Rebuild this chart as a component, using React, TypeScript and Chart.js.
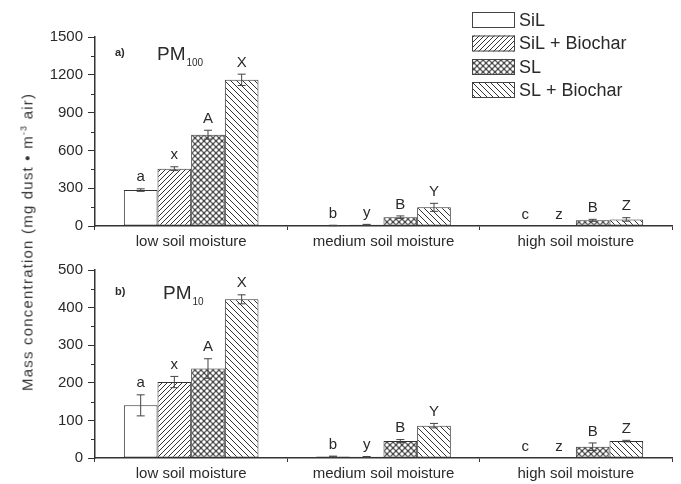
import React, { useEffect, useRef } from 'react';
import { Chart, registerables } from 'chart.js';

Chart.register(...registerables);

// ---------- data ----------
const categories = ['low soil moisture', 'medium soil moisture', 'high soil moisture'];
const seriesNames = ['SiL', 'SiL + Biochar', 'SL', 'SL + Biochar'];

// PM100 (panel a)
const pm100SiL = [285, 4, 0];
const pm100SiLBiochar = [455, 10, 0];
const pm100SL = [725, 70, 45];
const pm100SLBiochar = [1160, 148, 52];
const pm100ErrSiL = [10, 2, 0];
const pm100ErrSiLBiochar = [15, 3, 0];
const pm100ErrSL = [35, 10, 8];
const pm100ErrSLBiochar = [45, 32, 14];

// PM10 (panel b)
const pm10SiL = [140, 4, 0];
const pm10SiLBiochar = [202, 3, 0];
const pm10SL = [238, 45, 30];
const pm10SLBiochar = [422, 86, 45];
const pm10ErrSiL = [28, 1, 0];
const pm10ErrSiLBiochar = [15, 1, 0];
const pm10ErrSL = [26, 4, 10];
const pm10ErrSLBiochar = [12, 6, 2];

// significance letters
const lettersSiL = ['a', 'b', 'c'];
const lettersSiLBiochar = ['x', 'y', 'z'];
const lettersSL = ['A', 'B', 'B'];
const lettersSLBiochar = ['X', 'Y', 'Z'];

const FONT = '"Liberation Sans", Arial, Helvetica, sans-serif';
const INK = '#2a2a2a';

type Kind = 'none' | 'fwd' | 'cross' | 'back';
const kinds: Kind[] = ['none', 'fwd', 'cross', 'back'];

function makePattern(kind: Kind): CanvasPattern | string {
  if (kind === 'none') return '#ffffff';
  const size = kind === 'fwd' ? 5 : kind === 'back' ? 6 : 6;
  const c = document.createElement('canvas');
  c.width = size;
  c.height = size;
  const g = c.getContext('2d')!;
  if (kind === 'cross') {
    g.fillStyle = '#4a4a4a';
    g.fillRect(0, 0, size, size);
    g.fillStyle = '#ffffff';
    const pts = [[0, 0], [size, 0], [0, size], [size, size], [size / 2, size / 2]];
    pts.forEach(([px, py]) => {
      g.beginPath();
      g.arc(px, py, 1.75, 0, Math.PI * 2);
      g.fill();
    });
    return g.createPattern(c, 'repeat')!;
  }
  g.fillStyle = '#ffffff';
  g.fillRect(0, 0, size, size);
  g.strokeStyle = '#333';
  g.lineWidth = 1;
  g.beginPath();
  if (kind === 'fwd') {
    g.moveTo(-1, size + 1); g.lineTo(size + 1, -1);
    g.moveTo(-1, 1); g.lineTo(1, -1);
    g.moveTo(size - 1, size + 1); g.lineTo(size + 1, size - 1);
  } else {
    g.moveTo(-1, -1); g.lineTo(size + 1, size + 1);
    g.moveTo(size - 1, -1); g.lineTo(size + 1, 1);
    g.moveTo(-1, size - 1); g.lineTo(1, size + 1);
  }
  g.stroke();
  return g.createPattern(c, 'repeat')!;
}

interface PanelProps {
  values: number[][];
  errors: number[][];
  letters: string[][];
  max: number;
  step: number;
  width: number;
  height: number;
  padTop: number;
  xAxisHeight: number;
  tag: string;
  tagY: number;
  pmX: number;
  sub: string;
  showLegend: boolean;
}

function Panel(p: PanelProps) {
  const ref = useRef<HTMLCanvasElement | null>(null);
  useEffect(() => {
    const canvas = ref.current!;
    const fills = kinds.map(makePattern);

    const errorPlugin = {
      id: 'errLetters',
      afterDatasetsDraw(chart: any) {
        const ctx = chart.ctx;
        const ys = chart.scales.y;
        ctx.save();
        chart.data.datasets.forEach((ds: any, i: number) => {
          const meta = chart.getDatasetMeta(i);
          meta.data.forEach((bar: any, j: number) => {
            const v = ds.data[j];
            const e = ds.errors[j];
            const x = bar.x;
            const top = ys.getPixelForValue(v + e);
            if (e > 0) {
              const bot = ys.getPixelForValue(Math.max(0, v - e));
              ctx.strokeStyle = '#444';
              ctx.lineWidth = 1;
              ctx.beginPath();
              ctx.moveTo(x, top); ctx.lineTo(x, bot);
              ctx.moveTo(x - 4, top); ctx.lineTo(x + 4, top);
              ctx.moveTo(x - 4, bot); ctx.lineTo(x + 4, bot);
              ctx.stroke();
            }
            ctx.fillStyle = INK;
            ctx.font = `15px ${FONT}`;
            ctx.textAlign = 'center';
            ctx.textBaseline = 'bottom';
            ctx.fillText(ds.letters[j], x, top - 4);
          });
        });
        ctx.restore();
      },
    };

    const decoPlugin = {
      id: 'deco',
      afterDraw(chart: any) {
        const ctx = chart.ctx;
        const ys = chart.scales.y;
        const left = chart.chartArea.left;
        ctx.save();
        // minor ticks
        ctx.strokeStyle = '#333';
        ctx.lineWidth = 1;
        ctx.beginPath();
        for (let v = p.step / 2; v < p.max; v += p.step) {
          const y = Math.round(ys.getPixelForValue(v)) + 0.5;
          ctx.moveTo(left - 4, y);
          ctx.lineTo(left, y);
        }
        ctx.stroke();
        // panel tag
        ctx.fillStyle = INK;
        ctx.textBaseline = 'middle';
        ctx.textAlign = 'left';
        ctx.font = `bold 11px ${FONT}`;
        ctx.fillText(p.tag, 115, p.tagY);
        ctx.font = `19px ${FONT}`;
        ctx.textBaseline = 'alphabetic';
        ctx.fillText('PM', p.pmX, p.tagY + 7);
        const w = ctx.measureText('PM').width;
        ctx.font = `10px ${FONT}`;
        ctx.fillText(p.sub, p.pmX + w + 1, p.tagY + 13);
        // legend
        if (p.showLegend) {
          const rows = [20, 43.5, 67, 90];
          rows.forEach((cy, i) => {
            ctx.fillStyle = fills[i] as any;
            ctx.fillRect(472, cy - 8, 43, 16);
            ctx.strokeStyle = '#444';
            ctx.lineWidth = 1;
            ctx.strokeRect(472.5, cy - 7.5, 42, 15);
            ctx.fillStyle = INK;
            ctx.font = `18px ${FONT}`;
            ctx.textBaseline = 'middle';
            ctx.textAlign = 'left';
            ctx.fillText(seriesNames[i], 519, cy + 1);
          });
        }
        ctx.restore();
      },
    };

    const chart = new Chart(canvas, {
      type: 'bar',
      data: {
        labels: categories,
        datasets: seriesNames.map((name, i) => ({
          label: name,
          data: p.values[i],
          errors: p.errors[i],
          letters: p.letters[i],
          backgroundColor: fills[i],
          borderColor: '#333',
          borderWidth: 1,
          borderSkipped: false,
          categoryPercentage: 0.7,
          barPercentage: 1.0,
        })) as any,
      },
      options: {
        animation: false,
        responsive: false,
        maintainAspectRatio: false,
        layout: { padding: { top: p.padTop, left: 0, right: 9, bottom: 0 } },
        plugins: { legend: { display: false }, tooltip: { enabled: false } },
        scales: {
          x: {
            type: 'category',
            offset: true,
            grid: { display: true, offset: true, drawOnChartArea: false, drawTicks: true, tickLength: 4, color: '#333' },
            border: { display: true, color: '#333', width: 1.5 },
            ticks: { color: INK, font: { family: FONT, size: 15 }, padding: 3, maxRotation: 0 },
            afterFit(scale: any) { scale.height = p.xAxisHeight; },
          },
          y: {
            min: 0,
            max: p.max,
            ticks: {
              stepSize: p.step,
              color: INK,
              font: { family: FONT, size: 15 },
              padding: 5,
              callback: (v: any) => String(v),
            },
            grid: { display: true, drawOnChartArea: false, drawTicks: true, tickLength: 7, color: '#333' },
            border: { display: true, color: '#333', width: 1.5 },
            afterFit(scale: any) { scale.width = 95; },
          },
        },
      } as any,
      plugins: [errorPlugin, decoPlugin],
    });
    return () => chart.destroy();
  }, []);
  return <canvas ref={ref} width={p.width} height={p.height} style={{ display: 'block', width: p.width, height: p.height }} />;
}

export default function App() {
  return (
    <div style={{ position: 'fixed', left: 0, top: 0, width: 681, height: 484, background: '#fff', overflow: 'hidden' }}>
      <Panel
        values={[pm100SiL, pm100SiLBiochar, pm100SL, pm100SLBiochar]}
        errors={[pm100ErrSiL, pm100ErrSiLBiochar, pm100ErrSL, pm100ErrSLBiochar]}
        letters={[lettersSiL, lettersSiLBiochar, lettersSL, lettersSLBiochar]}
        max={1500}
        step={300}
        width={681}
        height={250}
        padTop={37}
        xAxisHeight={24}
        tag="a)"
        tagY={53}
        pmX={157}
        sub="100"
        showLegend={true}
      />
      <Panel
        values={[pm10SiL, pm10SiLBiochar, pm10SL, pm10SLBiochar]}
        errors={[pm10ErrSiL, pm10ErrSiLBiochar, pm10ErrSL, pm10ErrSLBiochar]}
        letters={[lettersSiL, lettersSiLBiochar, lettersSL, lettersSLBiochar]}
        max={500}
        step={100}
        width={681}
        height={234}
        padTop={20}
        xAxisHeight={26}
        tag="b)"
        tagY={42}
        pmX={163}
        sub="10"
        showLegend={false}
      />
      <div
        style={{
          position: 'absolute',
          left: 27,
          top: 242,
          transform: 'translate(-50%, -50%) rotate(-90deg)',
          whiteSpace: 'nowrap',
          fontFamily: FONT,
          fontSize: 15,
          letterSpacing: '1.2px',
          color: '#333',
        }}
      >
        Mass concentration (mg dust • m<sup style={{ fontSize: 9 }}>-3</sup> air)
      </div>
    </div>
  );
}
